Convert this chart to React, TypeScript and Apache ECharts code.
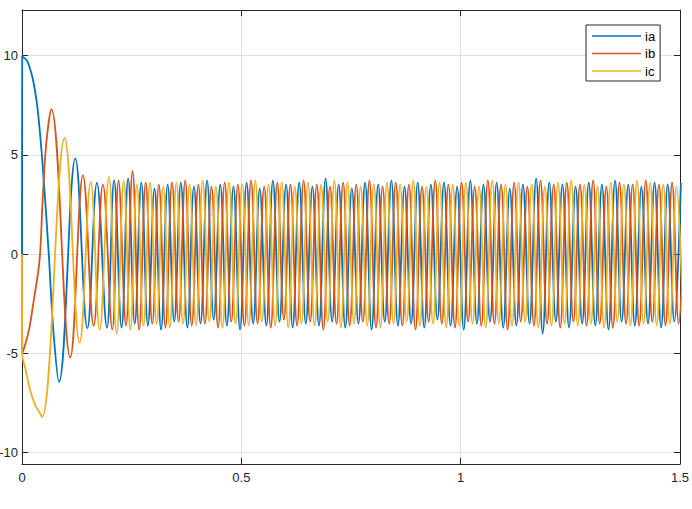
import React, { useEffect, useRef } from "react";
import * as echarts from "echarts";

const seriesNames = ["ia", "ib", "ic"];
const seriesColors = ["#0072BD", "#D95319", "#EDB120"];

// extrema / shape points of each phase, time in ms, value in A
const iaTimeMs = [
  0, 0.5, 4, 10, 16, 25, 34, 43, 50, 61, 72, 84.3, 121.6, 149, 170.8, 193.6, 210,
  227, 242, 257, 272, 287, 302, 317, 332, 347, 362, 377, 392, 407, 422, 437, 452, 467, 482, 497, 512,
  527, 542, 557, 572, 587, 602, 617, 632, 647, 662, 677, 692, 707, 722, 737, 752, 767, 782, 797, 812,
  827, 842, 857, 872, 887, 902, 917, 932, 947, 962, 977, 992, 1007, 1022, 1037, 1052, 1067, 1082, 1097, 1112,
  1127, 1142, 1157, 1172, 1187, 1202, 1217, 1232, 1247, 1262, 1277, 1292, 1307, 1322, 1337, 1352, 1367, 1382,
  1397, 1412, 1427, 1442, 1457, 1472, 1487, 1502,
];
const iaValues = [
  0, 10, 9.9, 9.8, 9.5, 8.8, 7.6, 5.6, 3.6, 0, -4, -6.44, 4.83, -3.73, 3.59, -3.7, 3.72,
  -3.7, 3.8, -3.5, 3.6, -3.6, 3.3, -3.8, 3.5, -3.4, 3.6,
  -3.7, 3.4, -3.5, 3.7, -3.3, 3.5, -3.6, 3.4, -3.8, 3.6,
  -3.5, 3.3, -3.6, 3.7, -3.4, 3.5, -3.7, 3.6, -3.5, 3.4,
  -3.6, 3.8, -3.4, 3.5, -3.7, 3.3, -3.5, 3.6, -3.8, 3.5,
  -3.4, 3.7, -3.6, 3.4, -3.5, 3.6, -3.7, 3.5, -3.3, 3.6,
  -3.6, 3.4, -3.8, 3.7, -3.5, 3.5, -3.4, 3.6, -3.7, 3.3,
  -3.6, 3.5, -3.5, 3.8, -4.0, 3.6, -3.4, 3.5, -3.7, 3.4,
  -3.5, 3.6, -3.6, 3.5, -3.8, 3.7, -3.4, 3.5, -3.6, 3.4,
  -3.5, 3.6, -3.7, 3.5, -3.4, 3.6,
];

const ibTimeMs = [
  0, 0.5, 8, 17, 27, 40, 47, 55, 66.9, 110, 139, 163.3, 184.5, 205.8, 220,
  237, 252, 267, 282, 297, 312, 327, 342, 357, 372, 387, 402, 417, 432, 447, 462, 477, 492, 507, 522,
  537, 552, 567, 582, 597, 612, 627, 642, 657, 672, 687, 702, 717, 732, 747, 762, 777, 792, 807, 822,
  837, 852, 867, 882, 897, 912, 927, 942, 957, 972, 987, 1002, 1017, 1032, 1047, 1062, 1077, 1092, 1107, 1122,
  1137, 1152, 1167, 1182, 1197, 1212, 1227, 1242, 1257, 1272, 1287, 1302, 1317, 1332, 1347, 1362, 1377, 1392,
  1407, 1422, 1437, 1452, 1467, 1482, 1497, 1512,
];
const ibValues = [
  0, -5, -4.5, -3.7, -2.3, -0.3, 2.7, 5.5, 7.3, -5.2, 3.97, -3.6, 3.5, -3.8, 3.7,
  -3.6, 4.2, -3.8, 3.6, -3.5, 3.5, -3.7, 3.6, -3.4, 3.7,
  -3.6, 3.5, -3.5, 3.4, -3.7, 3.6, -3.4, 3.5, -3.6, 3.7,
  -3.5, 3.4, -3.7, 3.6, -3.3, 3.5, -3.6, 3.7, -3.4, 3.5,
  -3.8, 3.4, -3.5, 3.6, -3.6, 3.5, -3.4, 3.7, -3.7, 3.4,
  -3.5, 3.6, -3.6, 3.5, -3.8, 3.4, -3.4, 3.7, -3.5, 3.5,
  -3.7, 3.6, -3.4, 3.4, -3.6, 3.7, -3.5, 3.5, -3.8, 3.6,
  -3.4, 3.4, -3.6, 3.7, -3.5, 3.5, -3.7, 3.6, -3.4, 3.5,
  -3.6, 3.7, -3.5, 3.4, -3.7, 3.6, -3.5, 3.5, -3.6, 3.7,
  -3.4, 3.5, -3.6, 3.6, -3.5, 3.5,
];

const icTimeMs = [
  0, 0.5, 8, 18, 30, 38, 46, 97.2, 131.4, 156.7, 177, 198.1, 215.7,
  232, 247, 262, 277, 292, 307, 322, 337, 352, 367, 382, 397, 412, 427, 442, 457, 472, 487, 502, 517,
  532, 547, 562, 577, 592, 607, 622, 637, 652, 667, 682, 697, 712, 727, 742, 757, 772, 787, 802, 817,
  832, 847, 862, 877, 892, 907, 922, 937, 952, 967, 982, 997, 1012, 1027, 1042, 1057, 1072, 1087, 1102, 1117,
  1132, 1147, 1162, 1177, 1192, 1207, 1222, 1237, 1252, 1267, 1282, 1297, 1312, 1327, 1342, 1357, 1372, 1387,
  1402, 1417, 1432, 1447, 1462, 1477, 1492, 1507,
];
const icValues = [
  0, -5, -5.8, -6.8, -7.6, -7.9, -8.2, 5.84, -4.46, 3.64, -3.8, 3.89, -4.0,
  3.7, -3.8, 3.5, -3.6, 3.6, -3.5, 3.4, -3.7, 3.6, -3.5,
  3.5, -3.6, 3.7, -3.4, 3.4, -3.7, 3.6, -3.5, 3.5, -3.6,
  3.7, -3.4, 3.5, -3.6, 3.6, -3.7, 3.4, -3.5, 3.6, -3.6,
  3.5, -3.4, 3.7, -3.7, 3.6, -3.5, 3.4, -3.6, 3.5, -3.7,
  3.6, -3.5, 3.5, -3.4, 3.7, -3.6, 3.4, -3.5, 3.6, -3.7,
  3.5, -3.6, 3.6, -3.5, 3.4, -3.7, 3.7, -3.5, 3.5, -3.6,
  3.6, -3.4, 3.5, -3.7, 3.4, -3.6, 3.6, -3.5, 3.7, -3.6,
  3.5, -3.5, 3.4, -3.7, 3.6, -3.4, 3.5, -3.6, 3.7, -3.5,
  3.6, -3.6, 3.5, -3.5, 3.4, -3.6,
];

const xMin = 0;
const xMax = 1.5;
const xStep = 0.5;
const yMin = -10.57;
const yMax = 12.3;

const FONT = '"Liberation Sans", Arial, Helvetica, sans-serif';
const AXIS_COLOR = "#262626";
const GRID_COLOR = "#e1e1e1";

function zip(ts: number[], vs: number[]) {
  const out: number[][] = [];
  for (let i = 0; i < Math.min(ts.length, vs.length); i++) out.push([ts[i] / 1000, vs[i]]);
  return out;
}

export default function App() {
  const ref = useRef<HTMLDivElement>(null);
  useEffect(() => {
    if (!ref.current) return;
    const chart = echarts.init(ref.current, undefined, { renderer: "svg" });
    const data = [zip(iaTimeMs, iaValues), zip(ibTimeMs, ibValues), zip(icTimeMs, icValues)];
    const axisLine = { show: true, onZero: false, lineStyle: { color: AXIS_COLOR, width: 1 } };
    const axisTick = { show: true, inside: true, length: 6, lineStyle: { color: AXIS_COLOR, width: 1 } };
    chart.setOption({
      animation: false,
      backgroundColor: "#ffffff",
      textStyle: { fontFamily: FONT },
      grid: { left: 22, right: 12, top: 10, bottom: 45, containLabel: false, outerBoundsMode: "none" },
      legend: {
        data: seriesNames,
        orient: "vertical",
        left: 586,
        top: 25,
        icon: "rect",
        itemWidth: 49,
        itemHeight: 1.5,
        itemGap: 3.5,
        padding: [4, 5, 3, 6],
        backgroundColor: "#ffffff",
        borderColor: AXIS_COLOR,
        borderWidth: 1,
        borderRadius: 0,
        textStyle: { fontFamily: FONT, fontSize: 13, color: "#000000", lineHeight: 14, padding: [0, 0, 0, -1] },
      },
      xAxis: [
        {
          type: "value",
          min: xMin,
          max: xMax,
          interval: xStep,
          position: "bottom",
          axisLine,
          axisTick,
          axisLabel: { color: AXIS_COLOR, fontSize: 13, margin: 7, fontFamily: FONT, formatter: (v: number) => String(v) },
          splitLine: { show: true, lineStyle: { color: GRID_COLOR, width: 1 } },
        },
        {
          type: "value",
          min: xMin,
          max: xMax,
          interval: xStep,
          position: "top",
          axisLine,
          axisTick,
          axisLabel: { show: false },
          splitLine: { show: false },
        },
      ],
      yAxis: [
        {
          type: "value",
          min: yMin,
          max: yMax,
          splitNumber: 5,
          position: "left",
          axisLine,
          axisTick,
          axisLabel: {
            color: AXIS_COLOR,
            fontSize: 13,
            margin: 4,
            fontFamily: FONT,
            showMinLabel: false,
            showMaxLabel: false,
            formatter: (v: number) => String(v),
          },
          splitLine: { show: true, lineStyle: { color: GRID_COLOR, width: 1 } },
        },
        {
          type: "value",
          min: yMin,
          max: yMax,
          splitNumber: 5,
          position: "right",
          axisLine,
          axisTick,
          axisLabel: { show: false },
          splitLine: { show: false },
        },
      ],
      series: seriesNames.map((name, i) => ({
        name,
        type: "line",
        xAxisIndex: 0,
        yAxisIndex: 0,
        data: data[i],
        symbol: "none",
        showSymbol: false,
        smooth: 0.4,
        color: seriesColors[i],
        lineStyle: { color: seriesColors[i], width: 1.8 },
        z: 2 + i,
      })),
    });
    return () => chart.dispose();
  }, []);
  return (
    <div
      ref={ref}
      style={{ position: "absolute", left: 0, top: 0, width: 692, height: 509, background: "#ffffff" }}
    />
  );
}
